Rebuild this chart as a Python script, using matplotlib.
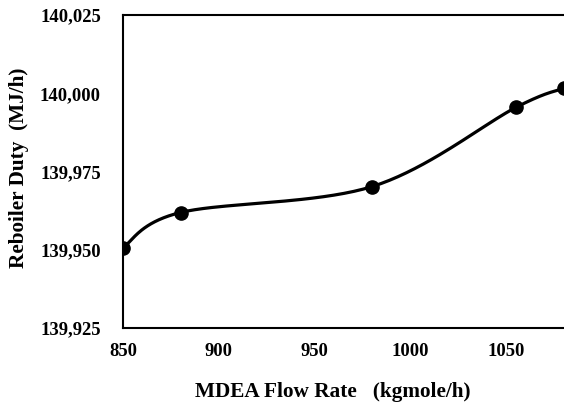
import numpy as np
import matplotlib
matplotlib.use("Agg")
import matplotlib.pyplot as plt
from matplotlib.ticker import FuncFormatter

flow_rate = [850, 880, 980, 1055, 1080]
reboiler_duty = [139950.7, 139961.9, 139970.2, 139995.5, 140001.6]
x_ticks = [850, 900, 950, 1000, 1050]
y_ticks = [139925, 139950, 139975, 140000, 140025]

plt.rcParams['font.family'] = ['Liberation Serif', 'DejaVu Serif']
plt.rcParams['font.weight'] = 'bold'

fig = plt.figure(figsize=(5.64, 4.05), dpi=100)
ax = fig.add_axes([123/564, 1-328/405, 1-123/564, (328-15)/405])

def smooth(xs, ys, n=40):
    xs = np.asarray(xs, float); ys = np.asarray(ys, float)
    px = np.concatenate([[xs[0]], xs, [xs[-1]]])
    py = np.concatenate([[ys[0]], ys, [ys[-1]]])
    ox, oy = [], []
    t = np.linspace(0, 1, n)
    for i in range(1, len(px)-2):
        p0 = np.array([px[i], py[i]]); p3 = np.array([px[i+1], py[i+1]])
        p1 = p0 + (np.array([px[i+1], py[i+1]]) - np.array([px[i-1], py[i-1]]))/6
        p2 = p3 - (np.array([px[i+2], py[i+2]]) - np.array([px[i], py[i]]))/6
        b = ((1-t)**3)[:, None]*p0 + (3*(1-t)**2*t)[:, None]*p1 + (3*(1-t)*t**2)[:, None]*p2 + (t**3)[:, None]*p3
        ox.extend(b[:, 0]); oy.extend(b[:, 1])
    return ox, oy

sx, sy = smooth(flow_rate, reboiler_duty)
ax.plot(sx, sy, color='black', lw=2.3, zorder=3)
ax.plot(flow_rate, reboiler_duty, 'o', color='black', ms=9.5, zorder=4)

ax.set_xlim(850, 1080)
ax.set_ylim(139925, 140025)
ax.set_xticks(x_ticks)
ax.set_yticks(y_ticks)
ax.yaxis.set_major_formatter(FuncFormatter(lambda v, p: f"{int(round(v)):,}"))
ax.tick_params(length=0, labelsize=13.4)
ax.tick_params(axis='x', pad=11)
ax.tick_params(axis='y', pad=16)
for lab in ax.get_xticklabels() + ax.get_yticklabels():
    lab.set_fontweight('bold')
for s in ['left', 'bottom', 'top']:
    ax.spines[s].set_linewidth(1.5)
ax.spines['right'].set_visible(False)

ax.set_xlabel("MDEA Flow Rate   (kgmole/h)", fontsize=15.3, fontweight='bold', va='center')
ax.set_ylabel("Reboiler Duty  (MJ/h)", fontsize=15.3, fontweight='bold', va='center')
ax.xaxis.set_label_coords((333-123)/(564-123), -(392-328)/313)
ax.yaxis.set_label_coords(-(123-19)/441, (328-168)/313)

fig.savefig("out.png", dpi=100)
